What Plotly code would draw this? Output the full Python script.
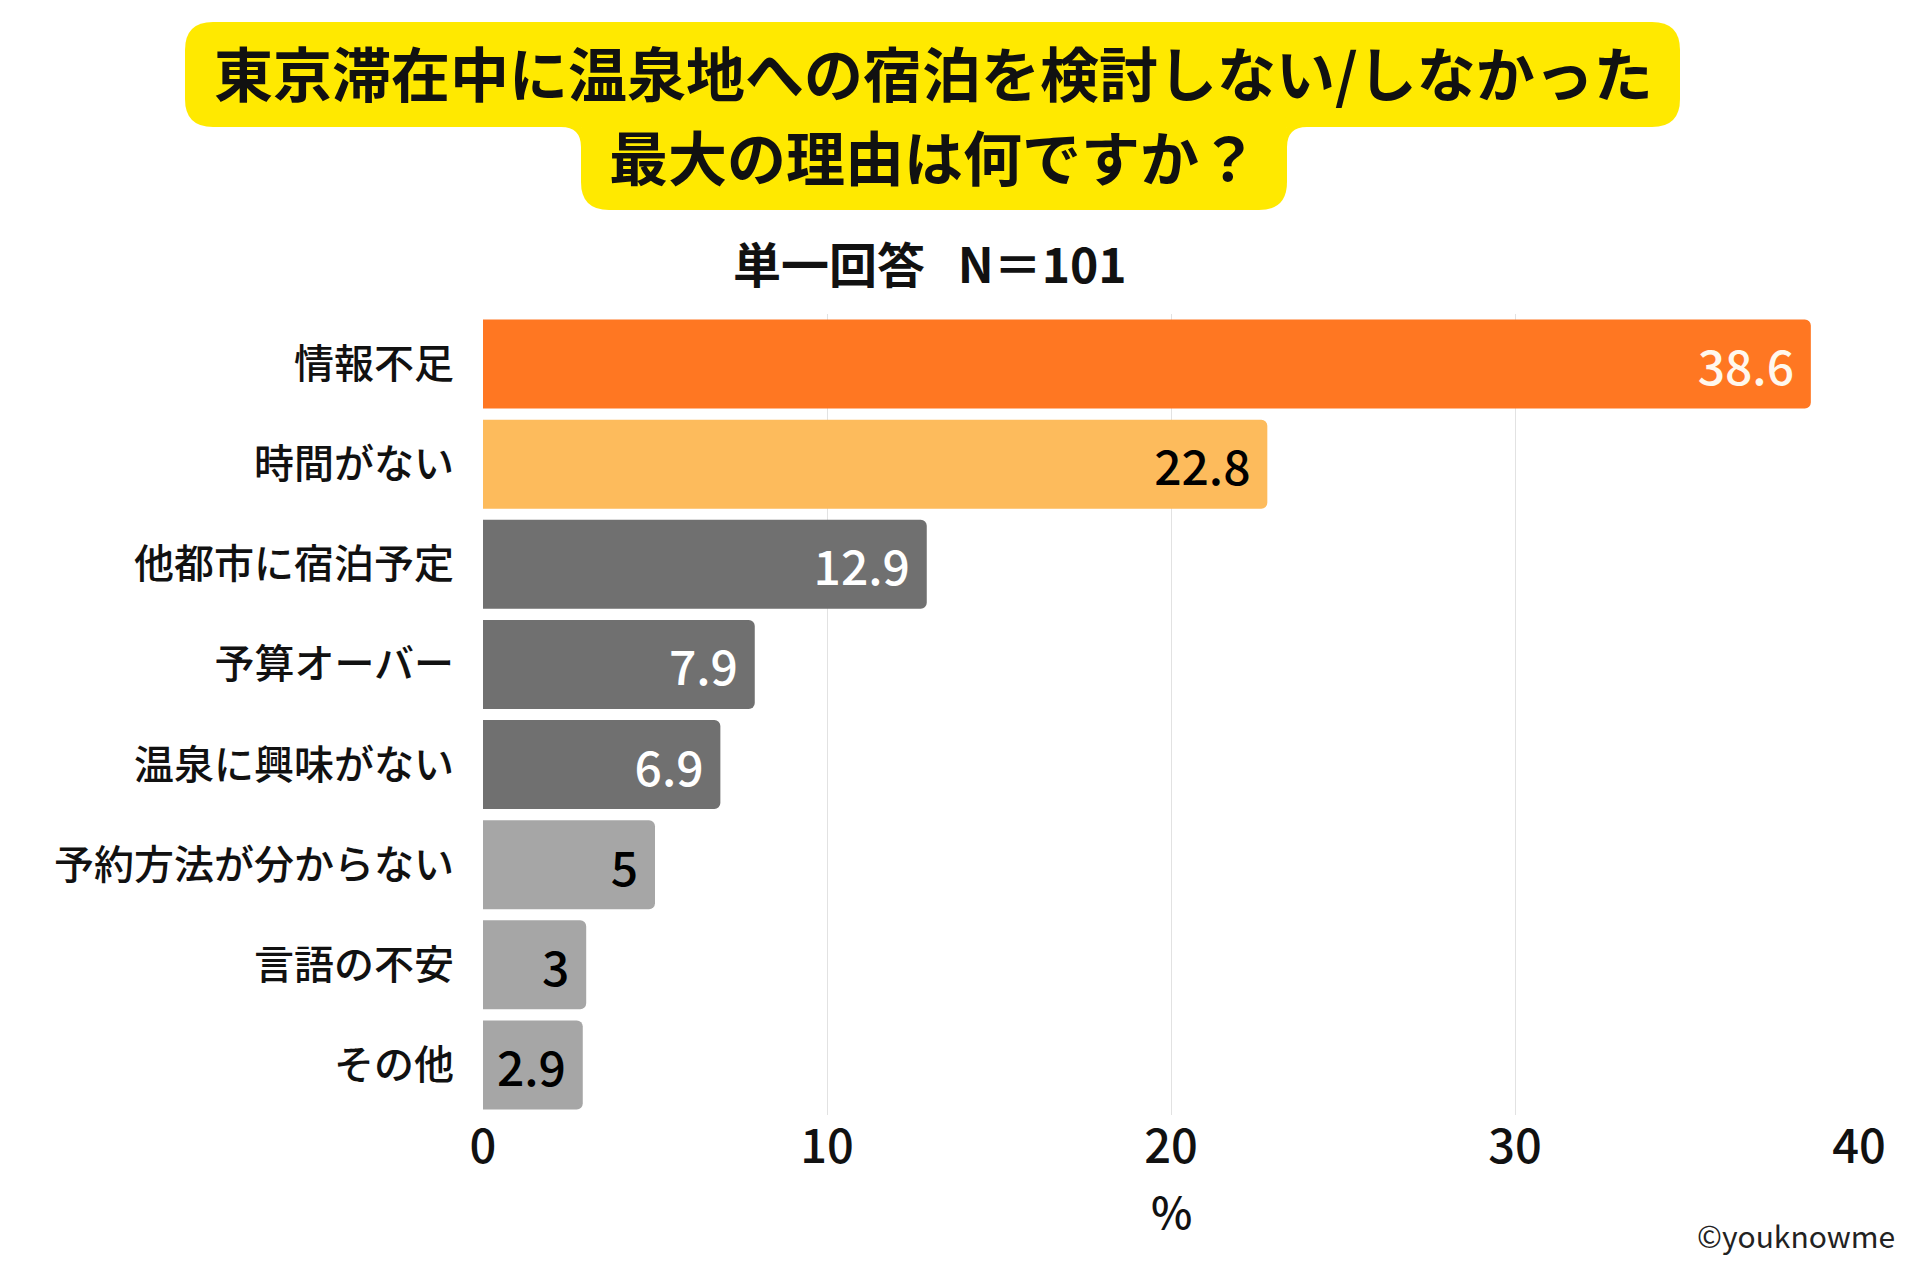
import plotly.graph_objects as go

reasons = ['情報不足', '時間がない', '他都市に宿泊予定', '予算オーバー',
           '温泉に興味がない', '予約方法が分からない', '言語の不安', 'その他']
percent = [38.6, 22.8, 12.9, 7.9, 6.9, 5, 3, 2.9]
bar_colors = ['#FF7722', '#FDBB5C', '#707070', '#707070', '#707070',
              '#A6A6A6', '#A6A6A6', '#A6A6A6']
text_colors = ['#FFF8EE', 'black', 'white', 'white', 'white',
               'black', 'black', 'black']
x_ticks = [0, 10, 20, 30, 40]

# the page puts the figure 8px in from the top-left corner
OFF = 8
W, H = 1920 - 2 * OFF, 1280 - 2 * OFF
# plot area in screen pixels
SX0, SX1, SY0, SY1 = 483, 1859, 314, 1115
L, R = SX0 - OFF, W - (SX1 - OFF)
T, B = SY0 - OFF, H - (SY1 - OFF)
pw, ph = W - L - R, H - T - B
FONT = 'Noto Sans CJK JP'


def px(x):
    return (x - OFF - L) / pw


def py(y):
    return (H - B - (y - OFF)) / ph


def rounded_box(x0, y0, x1, y1, r):
    pts = [
        f'M {px(x0 + r)},{py(y0)}',
        f'L {px(x1 - r)},{py(y0)}',
        f'Q {px(x1)},{py(y0)} {px(x1)},{py(y0 + r)}',
        f'L {px(x1)},{py(y1 - r)}',
        f'Q {px(x1)},{py(y1)} {px(x1 - r)},{py(y1)}',
        f'L {px(x0 + r)},{py(y1)}',
        f'Q {px(x0)},{py(y1)} {px(x0)},{py(y1 - r)}',
        f'L {px(x0)},{py(y0 + r)}',
        f'Q {px(x0)},{py(y0)} {px(x0 + r)},{py(y0)}',
        'Z',
    ]
    return ' '.join(pts)


def fillet(cx, cy, dx, r):
    # concave corner joining the two title boxes
    ax, bx = cx + dx * r, cx
    return (f'M {px(ax)},{py(cy)} L {px(cx)},{py(cy)} L {px(bx)},{py(cy + r)} '
            f'Q {px(cx)},{py(cy)} {px(ax)},{py(cy)} Z')


fig = go.Figure()
fig.add_trace(go.Bar(
    x=percent, y=reasons, orientation='h',
    marker=dict(color=bar_colors, cornerradius=6, line=dict(width=0)),
    text=[f'{v}\u00a0' for v in percent],
    textposition='inside', insidetextanchor='end',
    textfont=dict(family=FONT, size=48, color=text_colors, weight=500),
    cliponaxis=False,
))

yellow = '#FFE900'
box1 = (185, 22, 1680, 127)
box2 = (581, 100, 1287, 210)
fig.add_shape(type='path', xref='paper', yref='paper', layer='below',
              path=rounded_box(*box1, 28), fillcolor=yellow, line=dict(width=0))
fig.add_shape(type='path', xref='paper', yref='paper', layer='below',
              path=rounded_box(*box2, 28), fillcolor=yellow, line=dict(width=0))
fig.add_shape(type='path', xref='paper', yref='paper', layer='below',
              path=fillet(box2[0], box1[3], -1, 20), fillcolor=yellow,
              line=dict(width=0))
fig.add_shape(type='path', xref='paper', yref='paper', layer='below',
              path=fillet(box2[2], box1[3], 1, 20), fillcolor=yellow,
              line=dict(width=0))

fig.add_annotation(xref='paper', yref='paper', x=px(933), y=py(72),
                   text='<b>東京滞在中に温泉地への宿泊を検討しない/しなかった</b>',
                   showarrow=False, font=dict(family=FONT, size=59, color='#111'),
                   xanchor='center', yanchor='middle')
fig.add_annotation(xref='paper', yref='paper', x=px(933), y=py(156),
                   text='<b>最大の理由は何ですか？</b>',
                   showarrow=False, font=dict(family=FONT, size=59, color='#111'),
                   xanchor='center', yanchor='middle')
fig.add_annotation(xref='paper', yref='paper', x=px(930), y=py(262),
                   text='<b>単一回答&nbsp;&nbsp;&nbsp;N＝101</b>',
                   showarrow=False, font=dict(family=FONT, size=48, color='#111'),
                   xanchor='center', yanchor='middle')
# axis title, placed by hand
fig.add_annotation(xref='x', yref='paper', x=20, y=py(1210),
                   text='%', showarrow=False,
                   font=dict(family=FONT, size=44, color='#111', weight=500),
                   xanchor='center', yanchor='middle')
fig.add_annotation(xref='paper', yref='paper', x=px(1897), y=py(1235),
                   text='©youknowme',
                   showarrow=False, font=dict(family=FONT, size=30, color='#222'),
                   xanchor='right', yanchor='middle')

fig.update_layout(
    width=W, height=H,
    margin=dict(l=L, r=R, t=T, b=B),
    paper_bgcolor='white', plot_bgcolor='white',
    bargap=0.11, showlegend=False,
    font=dict(family=FONT, color='#111'),
)
fig.update_xaxes(range=[0, 40], tickvals=x_ticks, showgrid=True,
                 gridcolor='#E2E2E2', gridwidth=1, zeroline=False,
                 showline=False, ticks='',
                 tickfont=dict(family=FONT, size=47, color='#111', weight=500))
fig.update_yaxes(autorange='reversed', showgrid=False, zeroline=False,
                 ticks='', ticklabelstandoff=28,
                 tickfont=dict(family=FONT, size=40, color='#111', weight=500))

fig.write_html('out.html')
